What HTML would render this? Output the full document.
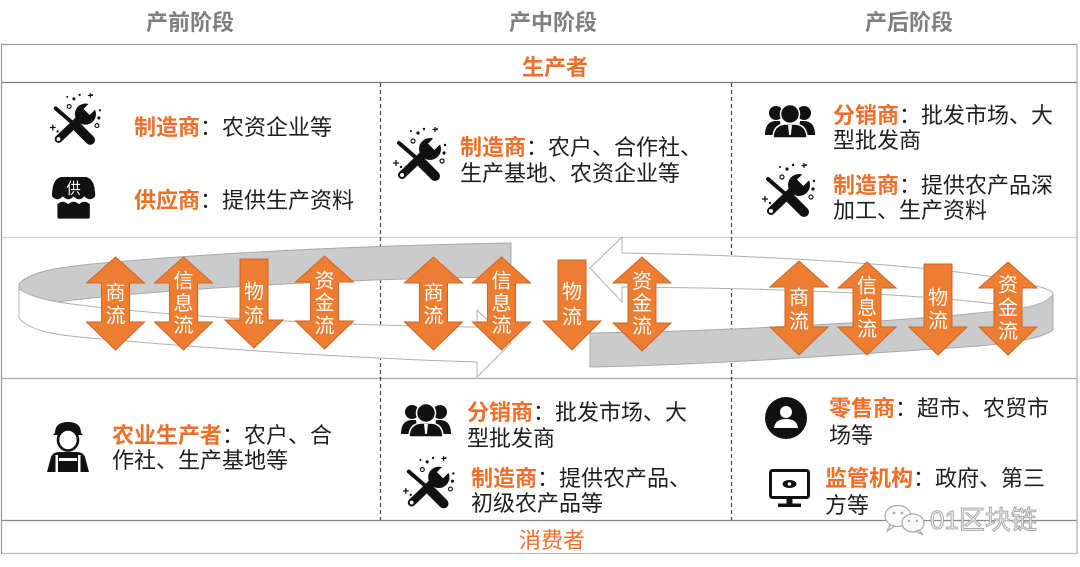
<!DOCTYPE html>
<html><head><meta charset="utf-8">
<style>
html,body{margin:0;padding:0;background:#fff;}
svg{display:block;}
text{font-family:"Liberation Sans","Noto Sans CJK SC",sans-serif;}
.t{font-size:22px;fill:#1e1e1e;}
.o{fill:#EE6F2A;font-weight:bold;}
.h{font-size:22px;fill:#7f7f7f;font-weight:bold;}
.a{font-size:20px;fill:#fff;text-anchor:middle;}
</style></head>
<body>
<svg width="1080" height="567" viewBox="0 0 1080 567" xmlns="http://www.w3.org/2000/svg">
<defs>
  <g id="tool">
    <line x1="8" y1="16" x2="30" y2="35" stroke="#111" stroke-width="4" stroke-linecap="round"/>
    <line x1="31" y1="36" x2="44" y2="49" stroke="#111" stroke-width="10" stroke-linecap="round"/>
    <line x1="11" y1="48" x2="33" y2="27" stroke="#111" stroke-width="8" stroke-linecap="round"/>
    <circle cx="11" cy="48" r="2" fill="#fff"/>
    <circle cx="39" cy="22" r="11" fill="#111"/>
    <rect x="41" y="7" width="9" height="15" fill="#fff" transform="rotate(45 45.5 14.5)"/>
    <circle cx="27" cy="6" r="1.6" fill="#111"/>
    <circle cx="33" cy="2" r="1.2" fill="#111"/>
    <circle cx="20" cy="4" r="1" fill="#111"/>
    <circle cx="53" cy="26" r="1.6" fill="#111"/>
    <circle cx="51" cy="34" r="2" fill="none" stroke="#111" stroke-width="1.2"/>
    <circle cx="54" cy="18" r="1.2" fill="#111"/>
    <circle cx="46" cy="2" r="1" fill="#111"/>
    <circle cx="22" cy="14" r="2" fill="none" stroke="#111" stroke-width="1.2"/>
    <path d="M2,36 h6 M5,33 v6" stroke="#111" stroke-width="1.3"/>
    <path d="M44,0 v5 M41.5,2.5 h5" stroke="#111" stroke-width="1.2"/>
    <circle cx="10" cy="40" r="1.2" fill="#111"/>
  </g>
  <g id="people">
    <circle cx="11" cy="9" r="7" fill="#111"/>
    <circle cx="39" cy="9" r="7" fill="#111"/>
    <path d="M0,31 Q0,18 10,17 L15,17 L17,31 Z" fill="#111"/>
    <path d="M50,31 Q50,18 40,17 L35,17 L33,31 Z" fill="#111"/>
    <circle cx="25" cy="10" r="9.5" fill="#111" stroke="#fff" stroke-width="1.5"/>
    <path d="M8,34 Q8,21 20,20 L30,20 Q42,21 42,34 Z" fill="#111" stroke="#fff" stroke-width="1.5"/>
    <path d="M23,21 L27,21 L25.8,31 L24.2,31 Z" fill="#fff"/>
  </g>
</defs>

<!-- headers -->
<text class="h" x="190" y="30" text-anchor="middle">产前阶段</text>
<text class="h" x="553" y="30" text-anchor="middle">产中阶段</text>
<text class="h" x="909" y="30" text-anchor="middle">产后阶段</text>

<!-- frame -->
<line x1="1" y1="44.5" x2="1077" y2="44.5" stroke="#999" stroke-width="1.2"/>
<line x1="1" y1="82.5" x2="1077" y2="82.5" stroke="#777" stroke-width="1.3"/>
<line x1="1" y1="237.5" x2="1077" y2="237.5" stroke="#d2d2d2" stroke-width="1.2"/>
<line x1="1" y1="378.5" x2="1077" y2="378.5" stroke="#aaa" stroke-width="1.2"/>
<line x1="1" y1="520.5" x2="1077" y2="520.5" stroke="#888" stroke-width="1.3"/>
<line x1="1" y1="553.5" x2="1077" y2="553.5" stroke="#bbb" stroke-width="1.2"/>
<line x1="1.5" y1="44" x2="1.5" y2="554" stroke="#999" stroke-width="1.2"/>
<line x1="1077" y1="44" x2="1077" y2="554" stroke="#aaa" stroke-width="1.2"/>
<line x1="380.5" y1="83" x2="380.5" y2="520" stroke="#444" stroke-width="1.2" stroke-dasharray="4 3"/>
<line x1="731.5" y1="83" x2="731.5" y2="520" stroke="#444" stroke-width="1.2" stroke-dasharray="4 3"/>

<text x="555" y="75" text-anchor="middle" style="font-size:22px;font-weight:bold;fill:#EE6F2A;">生产者</text>
<text x="552" y="548" text-anchor="middle" style="font-size:22px;fill:#EE6F2A;">消费者</text>

<!-- top row -->
<use href="#tool" transform="translate(48,93) scale(0.96)"/>
<text class="t" x="134" y="135"><tspan class="o">制造商</tspan>：农资企业等</text>

<g transform="translate(52,176) scale(0.9,0.97)">
  <path d="M0,21 Q0,3 10,1 L38,1 Q48,3 48,21 Q42,27 36,21 Q30,27 24,21 Q18,27 12,21 Q6,27 0,21 Z" fill="#111"/>
  <text x="24" y="18" text-anchor="middle" style="font-size:16px;fill:#fff;">供</text>
  <path d="M6,29 Q12,24 18,29 Q24,24 30,29 Q36,24 42,29 L42,42 Q42,44 40,44 L8,44 Q6,44 6,42 Z" fill="#111"/>
</g>
<text class="t" x="134" y="208"><tspan class="o">供应商</tspan>：提供生产资料</text>

<use href="#tool" transform="translate(391,127)"/>
<text class="t" x="460" y="155"><tspan class="o">制造商</tspan>：农户、合作社、</text>
<text class="t" x="460" y="181">生产基地、农资企业等</text>

<use href="#people" transform="translate(765,104)"/>
<text class="t" x="833" y="123"><tspan class="o">分销商</tspan>：批发市场、大</text>
<text class="t" x="833" y="148">型批发商</text>
<use href="#tool" transform="translate(760,163)"/>
<text class="t" x="833" y="193"><tspan class="o">制造商</tspan>：提供农产品深</text>
<text class="t" x="833" y="218">加工、生产资料</text>

<!-- left ribbon -->
<path d="M19,284 C30,270 70,266 103,263 C250,250 400,245 511,243 L511,277 C350,278 150,290 58,302 C45,300 25,295 19,289 Z" fill="#cbcbcb" stroke="#a8a8a8" stroke-width="1"/>
<path d="M19,289 C30,296 45,300 58,302 C150,316 350,326 477,327 L477,310 L511,343 L477,377 L477,362 C400,360 250,352 103,339 C60,336 30,332 19,318 Z" fill="#fff" stroke="#b0b0b0" stroke-width="1"/>

<!-- right ribbon -->
<path d="M590,333 C750,331 950,318 1022,308 C1040,305 1050,300 1053,294 L1053,330 C1040,340 1000,345 950,348 C800,358 700,365 590,367 Z" fill="#cbcbcb" stroke="#a8a8a8" stroke-width="1"/>
<path d="M590,268 L622,237 L622,253 C800,256 950,268 1010,280 C1040,286 1053,290 1053,294 C1050,300 1040,305 1022,308 C950,296 800,288 622,287 L622,302 Z" fill="#fff" stroke="#b0b0b0" stroke-width="1"/>

<!-- orange arrows -->
<g fill="#ED7D31" stroke="#cf6428" stroke-width="1">
  <path d="M115.5,257 L144.5,283 L129.5,283 L129.5,322 L144.5,322 L115.5,350 L86.5,322 L101.5,322 L101.5,283 L86.5,283 Z"/>
  <path d="M183.5,257 L212.5,283 L197.5,283 L197.5,322 L212.5,322 L183.5,350 L154.5,322 L169.5,322 L169.5,283 L154.5,283 Z"/>
  <path d="M240,259 L268,259 L268,320 L283,320 L254,348 L225,320 L240,320 Z"/>
  <path d="M324.5,256 L353.5,282 L338.5,282 L338.5,321 L353.5,321 L324.5,349 L295.5,321 L310.5,321 L310.5,282 L295.5,282 Z"/>

  <path d="M433.5,257 L462.5,283 L447.5,283 L447.5,322 L462.5,322 L433.5,350 L404.5,322 L419.5,322 L419.5,283 L404.5,283 Z"/>
  <path d="M501.5,257 L530.5,283 L515.5,283 L515.5,322 L530.5,322 L501.5,350 L472.5,322 L487.5,322 L487.5,283 L472.5,283 Z"/>
  <path d="M558,260 L586,260 L586,321 L601,321 L572,350 L543,321 L558,321 Z"/>
  <path d="M642,257 L671,283 L656,283 L656,323 L671,323 L642,351 L613,323 L628,323 L628,283 L613,283 Z"/>

  <path d="M799,261 L828,287 L813,287 L813,327 L828,327 L799,355 L770,327 L785,327 L785,287 L770,287 Z"/>
  <path d="M867,262 L896,288 L881,288 L881,327 L896,327 L867,355 L838,327 L853,327 L853,288 L838,288 Z"/>
  <path d="M924,264 L952,264 L952,327 L967,327 L938,355 L909,327 L924,327 Z"/>
  <path d="M1008,262 L1037,288 L1022,288 L1022,327 L1037,327 L1008,355 L979,327 L994,327 L994,288 L979,288 Z"/>
</g>
<g>
  <text class="a" x="115.5" y="299.5">商</text><text class="a" x="115.5" y="322.5">流</text>
  <text class="a" x="183.5" y="287.5">信</text><text class="a" x="183.5" y="310">息</text><text class="a" x="183.5" y="332">流</text>
  <text class="a" x="254" y="298.5">物</text><text class="a" x="254" y="322.5">流</text>
  <text class="a" x="324.5" y="287.5">资</text><text class="a" x="324.5" y="309.5">金</text><text class="a" x="324.5" y="332.5">流</text>

  <text class="a" x="433.5" y="299.5">商</text><text class="a" x="433.5" y="322.5">流</text>
  <text class="a" x="501.5" y="287.5">信</text><text class="a" x="501.5" y="310">息</text><text class="a" x="501.5" y="332">流</text>
  <text class="a" x="572" y="298.5">物</text><text class="a" x="572" y="323.5">流</text>
  <text class="a" x="642" y="288">资</text><text class="a" x="642" y="310">金</text><text class="a" x="642" y="333">流</text>

  <text class="a" x="799" y="304.5">商</text><text class="a" x="799" y="328">流</text>
  <text class="a" x="867" y="292.5">信</text><text class="a" x="867" y="314.5">息</text><text class="a" x="867" y="336">流</text>
  <text class="a" x="938" y="304.5">物</text><text class="a" x="938" y="327.5">流</text>
  <text class="a" x="1008" y="291.5">资</text><text class="a" x="1008" y="314.5">金</text><text class="a" x="1008" y="338">流</text>
</g>

<!-- bottom row -->
<g transform="translate(46,422)">
  <path d="M9,11 Q9,0 22,0 Q35,0 35,11 L37,13 L7,13 Z" fill="#111"/>
  <ellipse cx="22" cy="18" rx="10" ry="10.5" fill="#fff" stroke="#111" stroke-width="2.6"/>
  <path d="M1,50 L5,35 Q7,30 13,30 L31,30 Q37,30 39,35 L43,50 Z" fill="#111"/>
  <rect x="13" y="36" width="18" height="3" fill="#fff"/>
  <rect x="9.5" y="33" width="2.5" height="17" fill="#fff"/>
  <rect x="32" y="33" width="2.5" height="17" fill="#fff"/>
</g>
<text class="t" x="112" y="443"><tspan class="o">农业生产者</tspan>：农户、合</text>
<text class="t" x="112" y="468">作社、生产基地等</text>

<use href="#people" transform="translate(401,403)"/>
<text class="t" x="467" y="420"><tspan class="o">分销商</tspan>：批发市场、大</text>
<text class="t" x="467" y="446">型批发商</text>
<use href="#tool" transform="translate(401,456) scale(0.97)"/>
<text class="t" x="471" y="486"><tspan class="o">制造商</tspan>：提供农产品、</text>
<text class="t" x="471" y="511">初级农产品等</text>

<circle cx="786" cy="418" r="21" fill="#111"/>
<circle cx="786" cy="412" r="6" fill="#fff"/>
<path d="M774,428 Q775,419 786,419 Q797,419 798,428 Z" fill="#fff"/>
<text class="t" x="829" y="416"><tspan class="o">零售商</tspan>：超市、农贸市</text>
<text class="t" x="829" y="443">场等</text>

<rect x="770.5" y="470.5" width="38" height="27" rx="2" fill="#fff" stroke="#111" stroke-width="3"/>
<ellipse cx="789.5" cy="484" rx="7" ry="4" fill="#111"/>
<circle cx="789.5" cy="484" r="1.8" fill="#fff"/>
<rect x="786.5" y="498" width="6" height="6" fill="#111"/>
<rect x="778" y="503.5" width="23" height="3.5" fill="#111"/>
<text class="t" x="825" y="486"><tspan class="o">监管机构</tspan>：政府、第三</text>
<text class="t" x="825" y="513">方等</text>

<!-- watermark -->
<g stroke="#aaa" stroke-width="1.2" fill="#fafafa">
  <ellipse cx="898" cy="516" rx="13" ry="10.5"/>
  <path d="M890,525 L887,531 L895,526 Z"/>
  <ellipse cx="913" cy="523" rx="11" ry="9"/>
  <path d="M919,530 L923,535 L916,531 Z"/>
</g>
<circle cx="894" cy="513" r="1.4" fill="#aaa"/><circle cx="902" cy="513" r="1.4" fill="#aaa"/>
<circle cx="909" cy="521" r="1.2" fill="#aaa"/><circle cx="917" cy="521" r="1.2" fill="#aaa"/>
<text x="930" y="529" style="font-size:26px;fill:#f6f6f6;stroke:#a8a8a8;stroke-width:1;">01区块链</text>
</svg>
</body></html>
